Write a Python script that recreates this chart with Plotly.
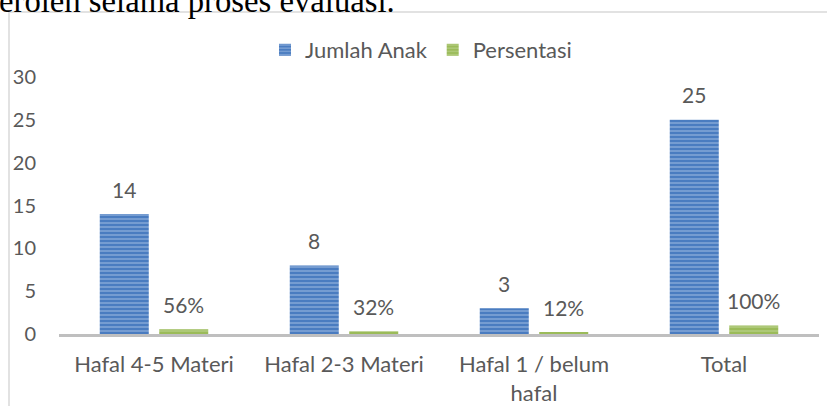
import plotly.graph_objects as go

categories = ["Hafal 4-5 Materi", "Hafal 2-3 Materi", "Hafal 1 / belum<br>hafal", "Total"]
jumlah_anak = [14, 8, 3, 25]
persentasi = [0.56, 0.32, 0.12, 1.0]
persen_labels = ["56%", "32%", "12%", "100%"]
jumlah_labels = ["14", "8", "3", "25"]
y_ticks = [0, 5, 10, 15, 20, 25, 30]

W, H = 827, 406
L, R, T, B = 59, 8, 77, 72
pw, ph = W - L - R, H - T - B
TXT = "#595959"
FONT = "Lato"

def px_x(x):
    return (x - L) / pw

def px_y(y):
    return (H - B - y) / ph

fig = go.Figure()
fig.add_trace(go.Bar(
    x=categories, y=jumlah_anak, name="Jumlah Anak",
    marker=dict(color="#4a7cc0", line=dict(width=0),
                pattern=dict(shape="-", fgcolor="#c6d7f0", bgcolor="#4a7cc0", size=4, solidity=0.35)),
))
fig.add_trace(go.Bar(
    x=categories, y=persentasi, name="Persentasi",
    marker=dict(color="#9bbb59", line=dict(width=0),
                pattern=dict(shape="-", fgcolor="#cfe0ad", bgcolor="#9bbb59", size=4, solidity=0.35)),
))

slot = pw / len(categories) * (1 - 0.374) / 2
annotations = []
for c, v, t in zip(categories, jumlah_anak, jumlah_labels):
    annotations.append(dict(x=c, y=v, text=t, xshift=-slot / 2, yshift=25, showarrow=False,
                            yanchor="middle", font=dict(family=FONT, size=21, color=TXT)))
for c, v, t in zip(categories, persentasi, persen_labels):
    annotations.append(dict(x=c, y=v, text=t, xshift=slot / 2, yshift=25, showarrow=False,
                            yanchor="middle", font=dict(family=FONT, size=21, color=TXT)))

annotations.append(dict(xref="paper", yref="paper", x=px_x(-3), y=px_y(21), xanchor="left", yanchor="bottom",
                        text="eroleh selama proses evaluasi.", showarrow=False,
                        font=dict(family="Liberation Serif", size=32.7, color="#000000")))

shapes = [
    dict(type="line", xref="paper", yref="paper", x0=px_x(9), x1=px_x(830), y0=px_y(12), y1=px_y(12),
         line=dict(color="#d9d9d9", width=1.5)),
    dict(type="line", xref="paper", yref="paper", x0=px_x(9), x1=px_x(9), y0=px_y(12), y1=px_y(410),
         line=dict(color="#d9d9d9", width=1.5)),
]

fig.update_layout(
    width=W, height=H,
    margin=dict(l=L, r=R, t=T, b=B, autoexpand=False),
    paper_bgcolor="white", plot_bgcolor="white",
    barmode="group", bargap=0.374, bargroupgap=0.176,
    font=dict(family=FONT, size=22, color=TXT),
    showlegend=True,
    legend=dict(orientation="h", x=px_x(421), xanchor="center", y=px_y(50), yanchor="middle",
                font=dict(family=FONT, size=22, color=TXT), bgcolor="rgba(0,0,0,0)"),
    annotations=annotations,
    shapes=shapes,
)
fig.update_xaxes(showline=True, linecolor="#bfbfbf", linewidth=3, ticks="", showgrid=False,
                 tickfont=dict(family=FONT, size=22, color=TXT), ticklabelstandoff=9, automargin=False)
fig.update_yaxes(range=[0, 30], tickvals=y_ticks, showgrid=False, zeroline=False, showline=False,
                 ticks="", tickfont=dict(family=FONT, size=20, color=TXT), ticklabelstandoff=22, automargin=False)

fig.write_html("out.html", config={"displayModeBar": False},
               post_script="document.body.style.margin='0';document.body.style.overflow='hidden';")
